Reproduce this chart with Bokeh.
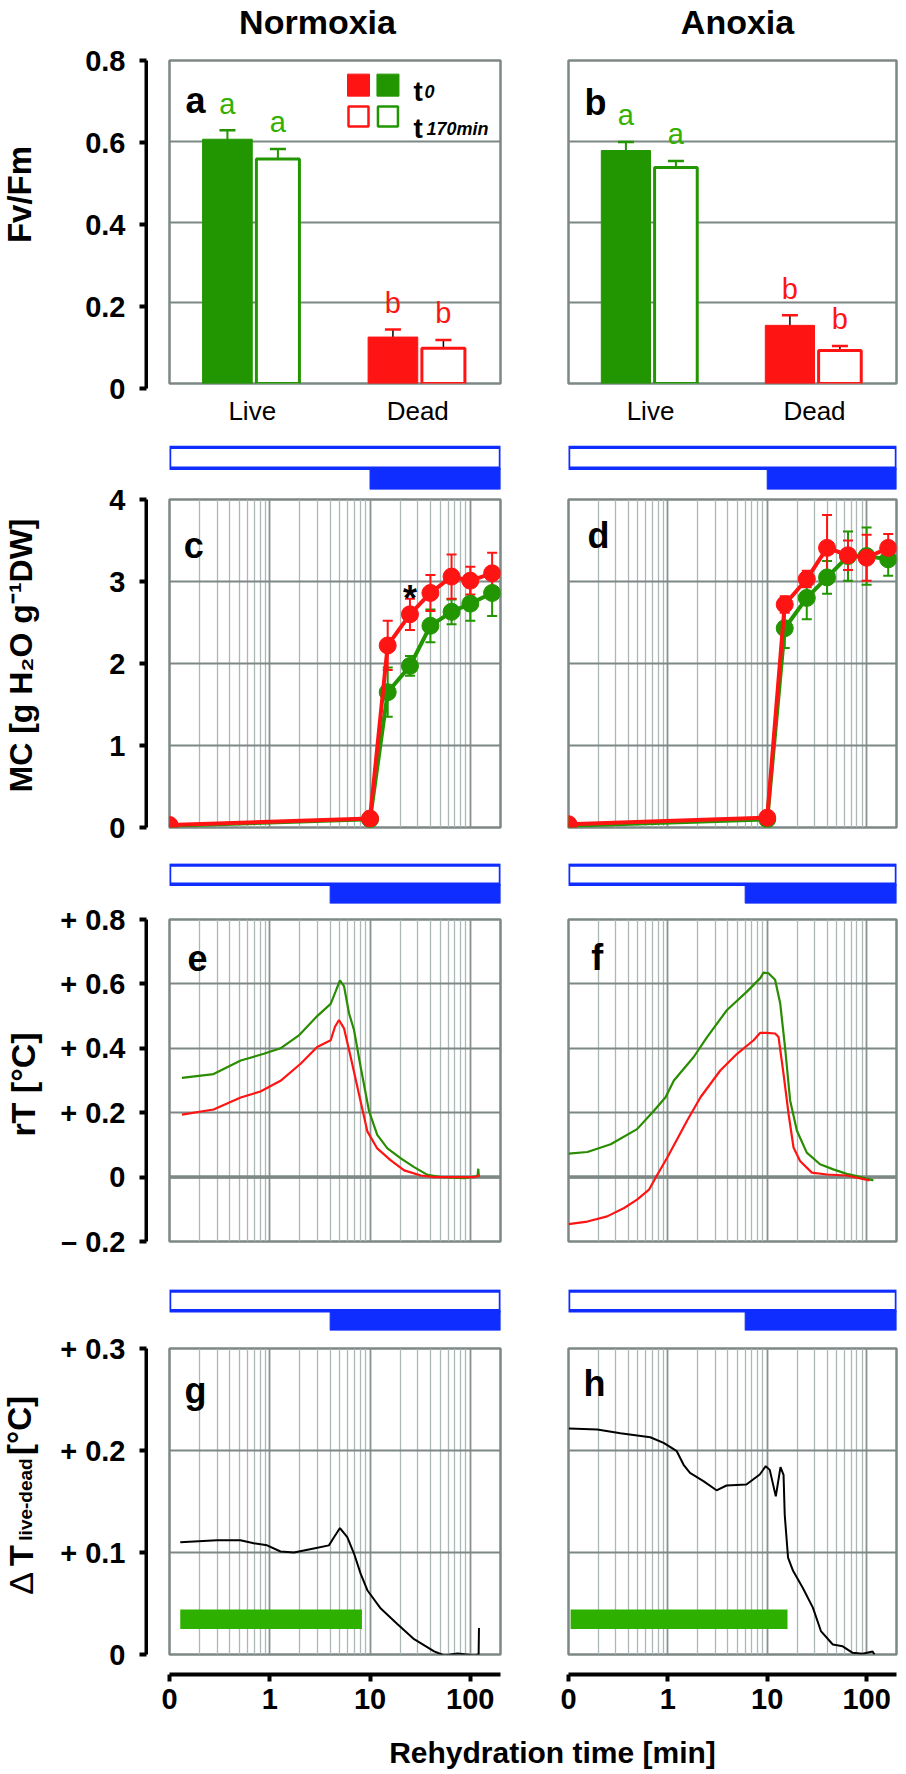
import numpy as np
from bokeh.plotting import figure
from bokeh.layouts import column, row
from bokeh.models import (ColumnDataSource, FixedTicker, Grid, Label, LinearAxis, LogAxis,
                          Range1d, Span, TeeHead, Whisker)
from bokeh.core.properties import value
from bokeh.embed import file_html
from bokeh.resources import INLINE

# ------------------------------------------------------------------ data
CATEGORIES = ["Live", "Dead"]
FVFM_NORM_T0 = [0.605, 0.115]
FVFM_NORM_T0_ERR = [0.022, 0.019]
FVFM_NORM_T170 = [0.556, 0.087]
FVFM_NORM_T170_ERR = [0.025, 0.021]
FVFM_ANOX_T0 = [0.577, 0.144]
FVFM_ANOX_T0_ERR = [0.021, 0.025]
FVFM_ANOX_T170 = [0.535, 0.082]
FVFM_ANOX_T170_ERR = [0.016, 0.011]
FVFM_LETTERS = ["a", "b"]

MC_TIME = [0, 10, 15, 25, 40, 65, 100, 165]
MC_NORM_LIVE = [0.02, 0.10, 1.65, 1.97, 2.46, 2.63, 2.73, 2.86]
MC_NORM_LIVE_ERR = [0, 0, 0.30, 0.12, 0.20, 0.15, 0.21, 0.28]
MC_NORM_DEAD = [0.03, 0.11, 2.22, 2.60, 2.86, 3.06, 3.01, 3.10]
MC_NORM_DEAD_ERR = [0, 0, 0.30, 0.19, 0.22, 0.27, 0.17, 0.25]
MC_ANOX_LIVE = [0.02, 0.10, 2.43, 2.80, 3.05, 3.31, 3.31, 3.27]
MC_ANOX_LIVE_ERR = [0, 0, 0.24, 0.26, 0.20, 0.30, 0.35, 0.20]
MC_ANOX_DEAD = [0.04, 0.12, 2.72, 3.03, 3.41, 3.32, 3.29, 3.41]
MC_ANOX_DEAD_ERR = [0, 0, 0.10, 0.10, 0.40, 0.18, 0.28, 0.17]
STAR_TIME_NORM = 25

RT_NORM_LIVE_T = [0.133, 0.275, 0.513, 0.871, 1.28, 1.95, 2.97, 4.05, 4.54, 5.01, 5.50, 6.17, 6.92,
                  8.07, 9.77, 11.8, 14.9, 20.3, 27.5, 37.4, 50.9, 87.1, 118, 120, 122]
RT_NORM_LIVE_V = [0.308, 0.320, 0.362, 0.383, 0.400, 0.440, 0.500, 0.538, 0.577, 0.611, 0.593, 0.509,
                  0.457, 0.341, 0.205, 0.131, 0.089, 0.058, 0.031, 0.007, 0.0, -0.003, 0.003, 0.026, 0.0]
RT_NORM_DEAD_T = [0.133, 0.275, 0.513, 0.807, 1.28, 2.03, 2.97, 4.05, 4.47, 4.90, 5.50, 6.41, 7.76,
                  9.40, 11.8, 16.1, 21.9, 32.1, 43.6, 112, 123]
RT_NORM_DEAD_V = [0.194, 0.210, 0.247, 0.266, 0.299, 0.352, 0.404, 0.425, 0.467, 0.488, 0.462, 0.373,
                  0.257, 0.142, 0.089, 0.052, 0.021, 0.005, 0.0, 0.0, 0.006]
RT_ANOX_LIVE_T = [0.100, 0.155, 0.266, 0.490, 0.724, 0.948, 1.15, 1.82, 2.48, 3.94, 6.25, 8.51, 9.18,
                  10.3, 12.0, 13.5, 15.1, 17.0, 19.9, 25.0, 34.0, 46.2, 63.1, 79.4, 117]
RT_ANOX_LIVE_V = [0.073, 0.078, 0.102, 0.149, 0.206, 0.248, 0.300, 0.373, 0.435, 0.519, 0.576, 0.618,
                  0.635, 0.633, 0.613, 0.540, 0.404, 0.238, 0.144, 0.076, 0.040, 0.024, 0.010, 0.003, -0.010]
RT_ANOX_DEAD_T = [0.100, 0.155, 0.245, 0.363, 0.490, 0.646, 0.752, 0.984, 1.56, 2.13, 3.37, 4.97, 7.29,
                  8.51, 9.93, 12.0, 13.0, 14.6, 16.4, 18.4, 21.4, 28.1, 39.8, 63.1, 107]
RT_ANOX_DEAD_V = [-0.146, -0.138, -0.122, -0.096, -0.070, -0.039, -0.002, 0.060, 0.175, 0.248, 0.331,
                  0.383, 0.425, 0.448, 0.448, 0.446, 0.435, 0.320, 0.196, 0.092, 0.050, 0.014, 0.008,
                  0.005, -0.010]

DT_NORM_T = [0.128, 0.297, 0.509, 0.692, 0.94, 1.28, 1.74, 2.75, 3.89, 4.37, 5.01, 5.93, 6.92, 8.07,
             9.40, 12.8, 18.7, 27.5, 43.6, 55.0, 74.6, 110, 121, 122]
DT_NORM_V = [0.110, 0.112, 0.112, 0.109, 0.107, 0.101, 0.100, 0.104, 0.107, 0.115, 0.124, 0.115, 0.099,
             0.079, 0.063, 0.045, 0.030, 0.015, 0.003, -0.001, 0.001, -0.001, 0.0, 0.026]
DT_ANOX_T = [0.101, 0.195, 0.333, 0.665, 0.906, 1.23, 1.44, 1.67, 2.28, 3.09, 3.89, 6.17, 8.41, 9.66,
             10.6, 12.2, 13.6, 14.6, 15.0, 16.2, 18.2, 22.9, 28.8, 34.7, 45.7, 57.5, 72.4, 91.2, 115, 120]
DT_ANOX_V = [0.2216, 0.2206, 0.217, 0.213, 0.2075, 0.1993, 0.186, 0.178, 0.170, 0.161, 0.1657, 0.1667,
             0.1765, 0.1846, 0.181, 0.155, 0.1837, 0.176, 0.137, 0.095, 0.082, 0.065, 0.046, 0.023,
             0.0098, 0.008, 0.0016, 0.0007, 0.003, 0.0]
SIG_PERIOD_NORM = [0.128, 8.3]
SIG_PERIOD_ANOX = [0.105, 16.0]

PHASE_START = {"c": 10, "d": 10, "e": 4, "f": 6, "g": 4, "h": 6}

X_TICK_LABELS = ["0", "1", "10", "100"]
X_ZERO = 0.1      # position standing for t = 0 on the log time axis
X_END = 200
X_TICKS = [X_ZERO, 1, 10, 100]
FVFM_TICKS = [0, 0.2, 0.4, 0.6, 0.8]
FVFM_TICK_LABELS = ["0", "0.2", "0.4", "0.6", "0.8"]
MC_TICKS = [0, 1, 2, 3, 4]
MC_TICK_LABELS = ["0", "1", "2", "3", "4"]
RT_TICKS = [-0.2, 0, 0.2, 0.4, 0.6, 0.8]
RT_TICK_LABELS = ["\u2013 0.2", "0", "+ 0.2", "+ 0.4", "+ 0.6", "+ 0.8"]
DT_TICKS = [0, 0.1, 0.2, 0.3]
DT_TICK_LABELS = ["0", "+ 0.1", "+ 0.2", "+ 0.3"]

# ------------------------------------------------------------------ style
FONT = "Liberation Sans"
RED = "#ff1414"
GREEN = "#219600"
GREEN_TXT = "#33b000"
GREEN_LINE = "#2a8c00"
GREEN_BAND = "#2eb000"
BLUE = "#0f2dff"
FRAME_C = "#7d8886"
HGRID_C = "#7d8886"
VGRID_MAJ = "#87928f"
VGRID_MIN = "#abb8b6"

WL, WA, W1, W2 = 50, 98, 386, 364
WTOT = WL + WA + W1 + W2
LR1 = (21, 34)
LR2 = (34, 2)
R0 = 46
R1 = (382, 14, 40)
R2 = (67, 17, 6)
R3 = (350, 4, 18)
R4 = (70, 18, 12)
R5 = (355, 4, 29)
R6 = (73, 19, 13)
R7 = (321, 5, 10)
R8 = (64, 8, 54)
R9 = 44
MINOR = [m * d for d in (0.1, 1, 10) for m in range(2, 10)]


def tpos(t):
    return np.maximum(np.asarray(t, dtype=float), X_ZERO)


def merged(above, spec, below=0):
    """Row spec of a figure that also covers the strip above (and below) its panel row."""
    return (above + spec[0] + below, above + spec[1], spec[2] + below)


def make_fig(width, rowspec, lr, x_range, y_range, x_type="linear"):
    h, t, b = rowspec
    p = figure(width=width, height=h, x_range=x_range, y_range=y_range, x_axis_type=x_type,
               x_axis_location=None, y_axis_location=None, title=None,
               output_backend="svg", toolbar_location=None,
               min_border_left=lr[0], min_border_right=lr[1], min_border_top=t, min_border_bottom=b)
    p.grid.visible = False
    p.outline_line_color = None
    p.background_fill_color = "white"
    p.border_fill_color = "white"
    return p


def text_fig(width, height):
    """A figure whose frame is the whole canvas, in pixel units from the top-left."""
    return make_fig(width, (height, 0, 0), (0, 0), Range1d(0, width), Range1d(height, 0))


def style_axis(ax):
    ax.axis_line_width = 4
    ax.axis_line_color = "black"
    ax.major_tick_line_width = 4
    ax.major_tick_line_color = "black"
    ax.major_tick_out = 7
    ax.major_tick_in = 0
    ax.minor_tick_line_color = None
    ax.major_label_text_font = FONT
    ax.major_label_text_font_style = "bold"
    ax.major_label_text_font_size = "29px"
    ax.major_label_text_color = "black"
    ax.major_label_standoff = 14


def add_text(p, x, y, text, size, style="bold", color="black", align="center",
             baseline="middle", angle=0.0):
    p.add_layout(Label(x=x, y=y, text=text, text_font=FONT, text_font_size=size,
                       text_font_style=style, text_color=color, text_align=align,
                       text_baseline=baseline, angle=angle))


def yaxis_fig(rowspec, y0, y1, ticks, labels):
    p = make_fig(WA, rowspec, (WA - 2, 0), Range1d(0, 1), Range1d(y0, y1))
    ax = LinearAxis(ticker=FixedTicker(ticks=ticks), major_label_overrides=dict(zip(ticks, labels)))
    style_axis(ax)
    p.add_layout(ax, "left")
    return p


def ylabel_fig(height, top, parts):
    p = text_fig(WL, height)
    for (text, x, y, size, style) in parts:
        add_text(p, x, top + y, text, size, style=style, align="center", angle=np.pi / 2)
    return p


def framed(p):
    p.outline_line_color = FRAME_C
    p.outline_line_width = 2.5


def bar_panel(width, lr, t0, t0e, t170, t170e):
    p = make_fig(width, R1, lr, Range1d(0, len(CATEGORIES)), Range1d(0, 0.8))
    framed(p)
    p.add_layout(Grid(dimension=1, ticker=FixedTicker(ticks=FVFM_TICKS),
                      grid_line_color=HGRID_C, grid_line_width=2))
    pos = np.arange(len(CATEGORIES)) + 0.5
    ax = LinearAxis(ticker=FixedTicker(ticks=pos.tolist()),
                    major_label_overrides=dict(zip(pos.tolist(), CATEGORIES)))
    ax.axis_line_color = None
    ax.major_tick_line_color = None
    ax.minor_tick_line_color = None
    ax.major_label_text_font = FONT
    ax.major_label_text_font_size = "26px"
    ax.major_label_text_color = "black"
    ax.major_label_standoff = 6
    p.add_layout(ax, "below")
    cols = [GREEN, RED]
    txtcols = [GREEN_TXT, RED]
    x0 = pos - 0.15
    x1 = pos + 0.155
    p.vbar(x=x0, top=t0, width=0.30, fill_color=cols, line_color=cols, line_width=1)
    p.vbar(x=x1, top=t170, width=0.26, fill_color="white", line_color=cols, line_width=3)
    for xs, vals, errs in ((x0, t0, t0e), (x1, t170, t170e)):
        for i in range(len(CATEGORIES)):
            v, e = vals[i], errs[i]
            src = ColumnDataSource(dict(x=[xs[i]], upper=[v + e], lower=[v - e]))
            stem = cols[i] if i == 0 else "black"
            p.add_layout(Whisker(source=src, base="x", upper="upper", lower="lower",
                                 line_color=stem, line_width=2 if i == 0 else 1.5,
                                 upper_head=TeeHead(size=16, line_color=cols[i], line_width=2.5),
                                 lower_head=TeeHead(size=16, line_color=cols[i], line_width=2.5)))
        p.text(x=xs, y=np.array(vals) + np.array(errs) + 0.066, text=FVFM_LETTERS,
               text_color=txtcols, text_font=value(FONT), text_font_size="29px",
               text_align="center", text_baseline="middle")
    return p


def log_panel(width, lr, rowspec, y0, y1, yticks):
    p = make_fig(width, rowspec, lr, Range1d(X_ZERO, X_END), Range1d(y0, y1), x_type="log")
    framed(p)
    p.add_layout(Grid(dimension=0, ticker=FixedTicker(ticks=X_TICKS[1:], minor_ticks=MINOR),
                      grid_line_color=VGRID_MAJ, grid_line_width=1.8,
                      minor_grid_line_color=VGRID_MIN, minor_grid_line_width=1.3))
    p.add_layout(Grid(dimension=1, ticker=FixedTicker(ticks=yticks),
                      grid_line_color=HGRID_C, grid_line_width=2))
    return p


def phase_fig(width, lr, rowspec, start):
    p = make_fig(width, rowspec, lr, Range1d(X_ZERO, X_END), Range1d(0, 2.08), x_type="log")
    p.quad(left=[start], right=[X_END], bottom=[0], top=[1], fill_color=BLUE, line_color=BLUE,
           line_width=1)
    p.quad(left=[X_ZERO], right=[X_END], bottom=[1], top=[2], fill_color="white", line_color=BLUE,
           line_width=3.5)
    return p


def mc_panel(width, lr, live, live_e, dead, dead_e):
    p = log_panel(width, lr, R3, 0, 4, MC_TICKS)
    x = tpos(MC_TIME)
    for vals, errs, c in ((live, live_e, GREEN), (dead, dead_e, RED)):
        v = np.asarray(vals, float)
        e = np.asarray(errs, float)
        src = ColumnDataSource(dict(x=x, y=v, upper=v + e, lower=v - e))
        p.add_layout(Whisker(source=src, base="x", upper="upper", lower="lower", line_color=c,
                             line_width=2,
                             upper_head=TeeHead(size=10, line_color=c, line_width=2),
                             lower_head=TeeHead(size=10, line_color=c, line_width=2)))
        p.line("x", "y", source=src, line_color=c, line_width=4)
        p.scatter("x", "y", source=src, size=17, fill_color=c, line_color=c)
    return p


def rt_panel(width, lr, lt, lv, dt, dv):
    p = log_panel(width, lr, R5, -0.2, 0.8, RT_TICKS)
    p.add_layout(Span(location=0, dimension="width", line_color=FRAME_C, line_width=3.5,
                      level="underlay"))
    p.line(tpos(lt), lv, line_color=GREEN_LINE, line_width=2.2)
    p.line(tpos(dt), dv, line_color=RED, line_width=2.2)
    return p


def dt_panel(width, lr, t, v, period):
    p = log_panel(width, lr, R7, 0, 0.3, DT_TICKS)
    p.quad(left=[period[0]], right=[period[1]], bottom=[0.025], top=[0.044],
           fill_color=GREEN_BAND, line_color=None)
    p.line(tpos(t), v, line_color="black", line_width=2)
    return p


def xaxis_fig(width, lr):
    p = make_fig(width, R8, lr, Range1d(X_ZERO, X_END), Range1d(0, 1), x_type="log")
    ax = LogAxis(ticker=FixedTicker(ticks=X_TICKS),
                 major_label_overrides=dict(zip(X_TICKS, X_TICK_LABELS)))
    style_axis(ax)
    ax.major_label_standoff = 7
    p.add_layout(ax, "below")
    return p


# ------------------------------------------------------------------ column titles
ttop = text_fig(WTOT, R0)
add_text(ttop, 317, 21, "Normoxia", "34px")
add_text(ttop, 737, 21, "Anoxia", "34px")

# ------------------------------------------------------------------ y labels (left strip)
yl1 = ylabel_fig(R1[0], 0, [("Fv/Fm", 19, 148, "33px", "bold")])
yl3 = ylabel_fig(R2[0] + R3[0], R2[0],
                 [("MC [g H\u2082O g\u207b\u00b9DW]", 20, 160, "32px", "bold")])
yl5 = ylabel_fig(R4[0] + R5[0], R4[0], [("rT [\u00b0C]", 22, 169, "34px", "bold")])
yl7 = ylabel_fig(R6[0] + R7[0] + R8[0], R6[0],
                 [("\u0394", 20, 240, "34px", "normal"),
                  ("T", 20, 212, "34px", "bold"),
                  ("live-dead", 25, 156, "19px", "bold"),
                  ("[\u00b0C]", 19, 82, "33px", "bold")])

# ------------------------------------------------------------------ y axes
ya1 = yaxis_fig(R1, 0, 0.8, FVFM_TICKS, FVFM_TICK_LABELS)
ya3 = yaxis_fig(merged(R2[0], R3), 0, 4, MC_TICKS, MC_TICK_LABELS)
ya5 = yaxis_fig(merged(R4[0], R5), -0.2, 0.8, RT_TICKS, RT_TICK_LABELS)
ya7 = yaxis_fig(merged(R6[0], R7, R8[0]), 0, 0.3, DT_TICKS, DT_TICK_LABELS)

# ------------------------------------------------------------------ row 1: Fv/Fm
pa = bar_panel(W1, LR1, FVFM_NORM_T0, FVFM_NORM_T0_ERR, FVFM_NORM_T170, FVFM_NORM_T170_ERR)
pb = bar_panel(W2, LR2, FVFM_ANOX_T0, FVFM_ANOX_T0_ERR, FVFM_ANOX_T170, FVFM_ANOX_T170_ERR)
add_text(pa, 0.157, 0.702, "a", "36px")
add_text(pb, 0.165, 0.695, "b", "36px")
# legend of panel a
for (lx, col) in ((1.142, RED), (1.320, GREEN)):
    pa.scatter(x=[lx], y=[0.739], marker="square", size=22, fill_color=col, line_color=col)
    pa.scatter(x=[lx], y=[0.661], marker="square", size=20, fill_color="white", line_color=col,
               line_width=2.5)
add_text(pa, 1.474, 0.7244, "t", "28px", align="left", baseline="alphabetic")
add_text(pa, 1.541, 0.7244, "0", "18px", style="bold italic", align="left", baseline="alphabetic")
add_text(pa, 1.474, 0.631, "t", "28px", align="left", baseline="alphabetic")
add_text(pa, 1.553, 0.631, "170min", "18px", style="bold italic", align="left",
         baseline="alphabetic")

# ------------------------------------------------------------------ row 3: MC
pc = mc_panel(W1, LR1, MC_NORM_LIVE, MC_NORM_LIVE_ERR, MC_NORM_DEAD, MC_NORM_DEAD_ERR)
pd = mc_panel(W2, LR2, MC_ANOX_LIVE, MC_ANOX_LIVE_ERR, MC_ANOX_DEAD, MC_ANOX_DEAD_ERR)
add_text(pc, 0.175, 3.44, "c", "36px")
add_text(pd, 0.20, 3.56, "d", "36px")
i_star = MC_TIME.index(STAR_TIME_NORM)
add_text(pc, STAR_TIME_NORM, MC_NORM_DEAD[i_star] + MC_NORM_DEAD_ERR[i_star], "*", "36px",
         baseline="alphabetic")

# ------------------------------------------------------------------ row 5: rT
pe = rt_panel(W1, LR1, RT_NORM_LIVE_T, RT_NORM_LIVE_V, RT_NORM_DEAD_T, RT_NORM_DEAD_V)
pf = rt_panel(W2, LR2, RT_ANOX_LIVE_T, RT_ANOX_LIVE_V, RT_ANOX_DEAD_T, RT_ANOX_DEAD_V)
add_text(pe, 0.19, 0.679, "e", "36px")
add_text(pf, 0.195, 0.683, "f", "36px")

# ------------------------------------------------------------------ row 7: delta T
pg = dt_panel(W1, LR1, DT_NORM_T, DT_NORM_V, SIG_PERIOD_NORM)
ph = dt_panel(W2, LR2, DT_ANOX_T, DT_ANOX_V, SIG_PERIOD_ANOX)
add_text(pg, 0.182, 0.259, "g", "36px")
add_text(ph, 0.183, 0.266, "h", "36px")

# ------------------------------------------------------------------ phase bars
ph_c = phase_fig(W1, LR1, R2, PHASE_START["c"])
ph_d = phase_fig(W2, LR2, R2, PHASE_START["d"])
ph_e = phase_fig(W1, LR1, R4, PHASE_START["e"])
ph_f = phase_fig(W2, LR2, R4, PHASE_START["f"])
ph_g = phase_fig(W1, LR1, R6, PHASE_START["g"])
ph_h = phase_fig(W2, LR2, R6, PHASE_START["h"])

# ------------------------------------------------------------------ x axes + title
xa_l = xaxis_fig(W1, LR1)
xa_r = xaxis_fig(W2, LR2)
tbot = text_fig(WTOT, R9)
add_text(tbot, 552, 24, "Rehydration time [min]", "30px")

col_l = column(yl1, yl3, yl5, yl7)
col_a = column(ya1, ya3, ya5, ya7)
col_1 = column(pa, ph_c, pc, ph_e, pe, ph_g, pg, xa_l)
col_2 = column(pb, ph_d, pd, ph_f, pf, ph_h, ph, xa_r)

layout = column(ttop, row(col_l, col_a, col_1, col_2), tbot)

open("out.html", "w").write(file_html(layout, INLINE))
